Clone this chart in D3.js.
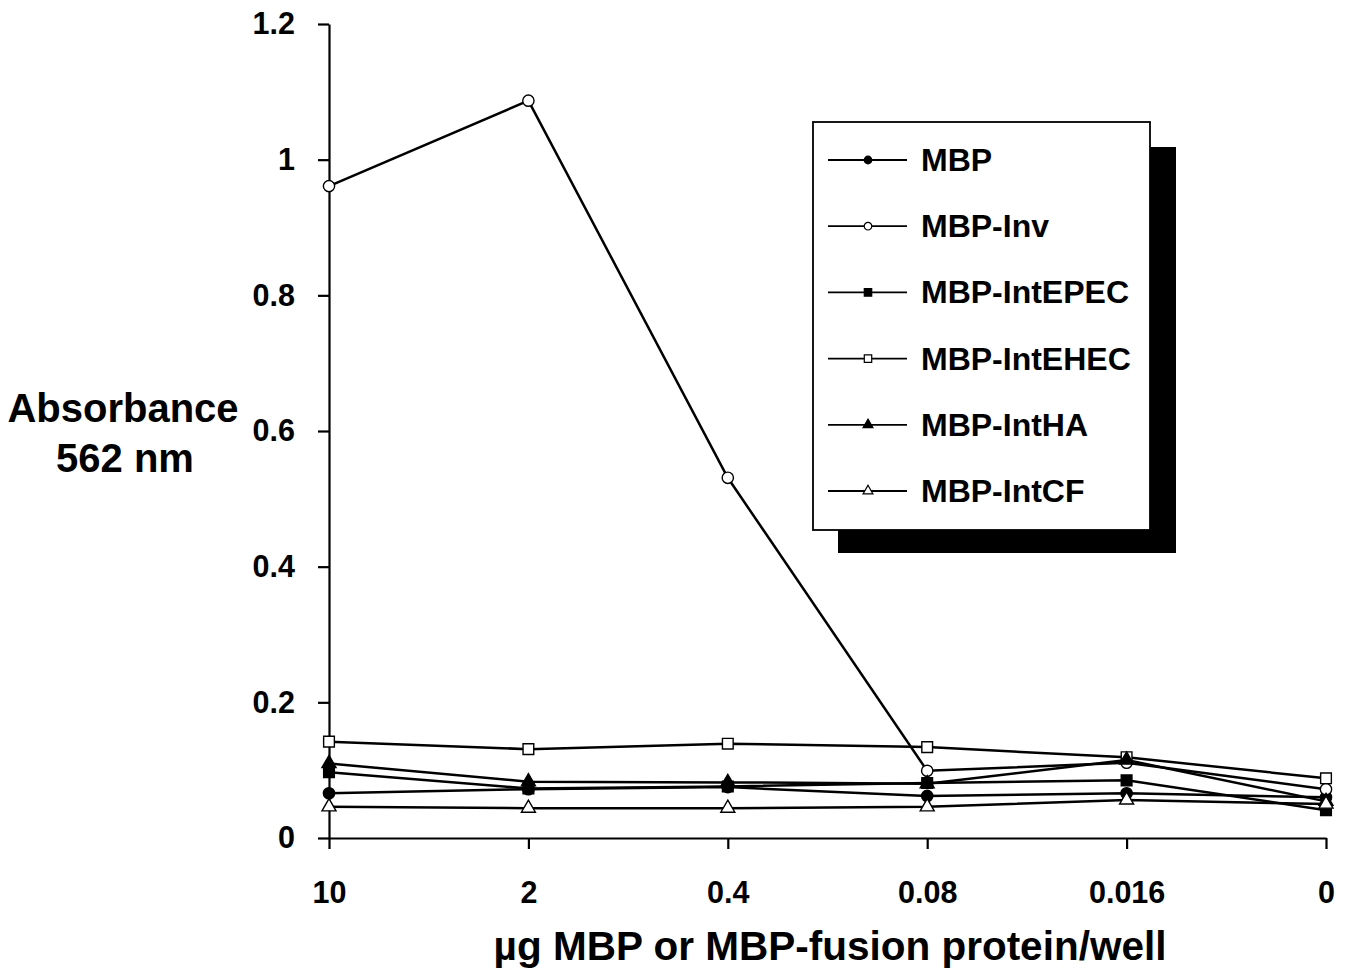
<!DOCTYPE html>
<html>
<head>
<meta charset="utf-8">
<script src="https://cdn.jsdelivr.net/npm/d3@7"></script>
<style>
  body { margin: 0; background: #fff; }
  svg { display: block; font-family: "Liberation Sans", Arial, sans-serif; font-weight: bold; }
</style>
</head>
<body>
<div class="chart"></div>
<script>
// doses on the x axis, read left to right
var categories = ["10", "2", "0.4", "0.08", "0.016", "0"];
var yTicks = [0, 0.2, 0.4, 0.6, 0.8, 1, 1.2];

// absorbance values
var mbp      = [0.066, 0.072, 0.075, 0.062, 0.066, 0.060];
var mbpInv   = [0.961, 1.087, 0.531, 0.099, 0.111, 0.072];
var intEPEC  = [0.097, 0.073, 0.076, 0.081, 0.085, 0.041];
var intEHEC  = [0.142, 0.131, 0.139, 0.134, 0.119, 0.088];
var intHA    = [0.110, 0.083, 0.082, 0.080, 0.115, 0.054];
var intCF    = [0.046, 0.044, 0.044, 0.046, 0.056, 0.050];

var seriesNames = ["MBP", "MBP-Inv", "MBP-IntEPEC", "MBP-IntEHEC", "MBP-IntHA", "MBP-IntCF"];
var seriesValues = [mbp, mbpInv, intEPEC, intEHEC, intHA, intCF];
var shapes = [d3.symbolCircle, d3.symbolCircle, d3.symbolSquare, d3.symbolSquare, d3.symbolTriangle, d3.symbolTriangle];
var filled = [true, false, true, false, true, false];

var width = 1346, height = 970;

var svg = d3.select(".chart").append("svg")
    .attr("width", width)
    .attr("height", height);

// scales
var x = d3.scalePoint().domain(categories).range([329, 1326]);
var y = d3.scaleLinear().domain([0, 1.2]).range([838, 24]);

// axes
var yAxis = svg.append("g")
    .attr("transform", "translate(329,0)")
    .call(d3.axisLeft(y)
        .tickValues(yTicks)
        .tickSize(11)
        .tickSizeOuter(0)
        .tickPadding(23)
        .tickFormat(function(d) { return String(+d.toFixed(1)); }));

var xAxis = svg.append("g")
    .attr("transform", "translate(0,838)")
    .call(d3.axisBottom(x)
        .tickSize(11)
        .tickSizeOuter(0)
        .tickPadding(32));

svg.selectAll(".domain, .tick line")
    .attr("stroke", "#000")
    .attr("stroke-width", 2.2);
svg.selectAll(".tick text")
    .attr("fill", "#000")
    .style("font-size", "30.5px")
    .style("font-family", "'Liberation Sans', Arial, sans-serif")
    .style("font-weight", "bold");

// axis titles
svg.append("text")
    .text("Absorbance")
    .attr("x", 123).attr("y", 422)
    .attr("text-anchor", "middle")
    .style("font-size", "40px");
svg.append("text")
    .text("562 nm")
    .attr("x", 125).attr("y", 472)
    .attr("text-anchor", "middle")
    .style("font-size", "40px");
svg.append("text")
    .text("µg MBP or MBP-fusion protein/well")
    .attr("x", 830).attr("y", 960)
    .attr("text-anchor", "middle")
    .style("font-size", "40.5px");

// lines
var line = d3.line()
    .x(function(d, i) { return x(categories[i]); })
    .y(function(d) { return y(d); });

svg.selectAll(".series")
    .data(seriesValues)
    .enter().append("path")
    .attr("class", "series")
    .attr("d", line)
    .attr("fill", "none")
    .attr("stroke", "#000")
    .attr("stroke-width", 2.5);

// markers
seriesValues.forEach(function(vals, s) {
    var sym = d3.symbol().type(shapes[s]).size(shapes[s] === d3.symbolTriangle ? 85 : (shapes[s] === d3.symbolSquare ? 115 : 100));
    svg.selectAll(".m" + s)
        .data(vals)
        .enter().append("path")
        .attr("class", "m" + s)
        .attr("d", sym)
        .attr("transform", function(d, i) { return "translate(" + x(categories[i]) + "," + y(d) + ")"; })
        .attr("fill", filled[s] ? "#000" : "#fff")
        .attr("stroke", "#000")
        .attr("stroke-width", 1.4);
});

// legend with drop shadow
var legend = svg.append("g");
legend.append("rect")
    .attr("x", 838).attr("y", 147)
    .attr("width", 338).attr("height", 406)
    .attr("fill", "#000");
legend.append("rect")
    .attr("x", 813).attr("y", 122)
    .attr("width", 337).attr("height", 408)
    .attr("fill", "#fff")
    .attr("stroke", "#000")
    .attr("stroke-width", 1.8);

var rowY = d3.scalePoint().domain(seriesNames).range([160, 491]);

seriesNames.forEach(function(name, s) {
    var ry = rowY(name);
    legend.append("line")
        .attr("x1", 828).attr("x2", 907)
        .attr("y1", ry).attr("y2", ry)
        .attr("stroke", "#000")
        .attr("stroke-width", 1.8);
    legend.append("path")
        .attr("d", d3.symbol().type(shapes[s]).size(shapes[s] === d3.symbolTriangle ? 42 : (shapes[s] === d3.symbolSquare ? 55 : 45)))
        .attr("transform", "translate(868," + ry + ")")
        .attr("fill", filled[s] ? "#000" : "#fff")
        .attr("stroke", "#000")
        .attr("stroke-width", 1.2);
    legend.append("text")
        .text(name)
        .attr("x", 921).attr("y", ry + 11)
        .style("font-size", "32px");
});
</script>
</body>
</html>
